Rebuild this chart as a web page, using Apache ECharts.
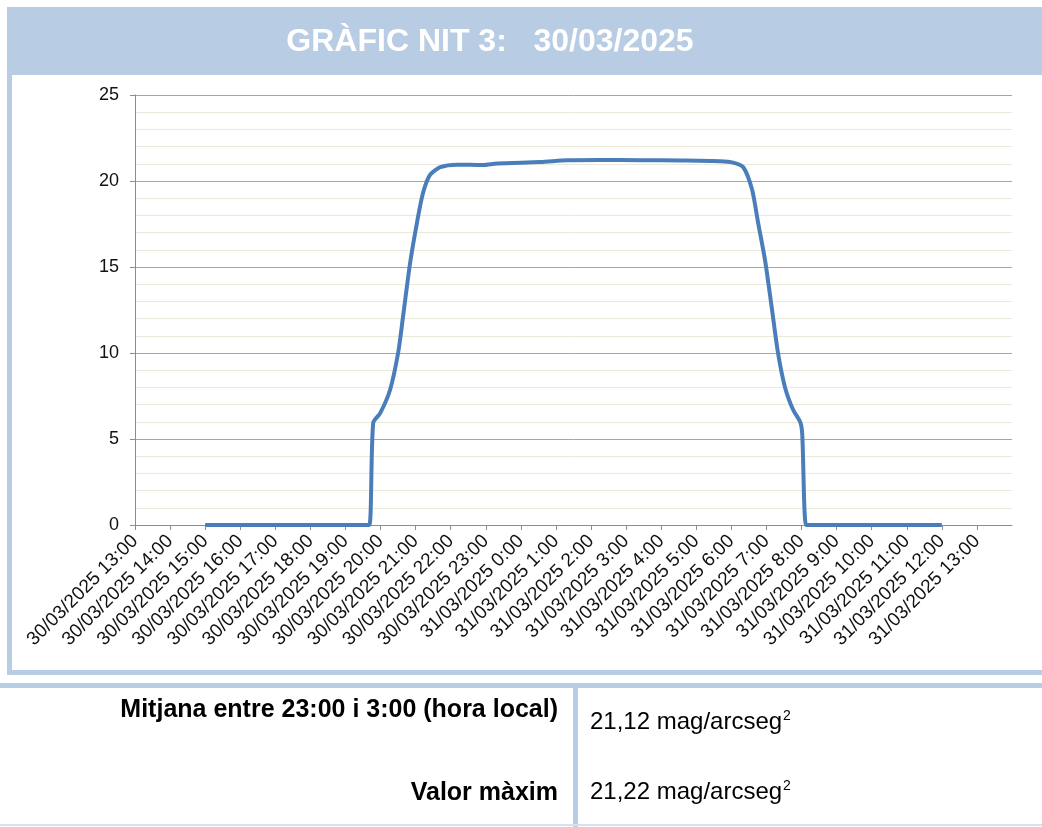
<!DOCTYPE html>
<html>
<head>
<meta charset="utf-8">
<title>Gràfic nit 3</title>
<script src="https://cdn.jsdelivr.net/npm/echarts@6/dist/echarts.min.js"></script>
<style>
  html, body {
    margin: 0;
    padding: 0;
    background: #fff;
  }
  #chart {
    width: 1042px;
    height: 827px;
  }
</style>
</head>
<body>
<div id="chart"></div>
<script>
// hores des de les 13:00 del 30/03/2025
const hoursSince13h = [2, 6.5, 6.68, 6.79, 6.99, 7.27, 7.5, 7.64, 7.84, 8.04, 8.21, 8.41, 8.7, 9.18, 9.92, 10.32, 11.55, 12.32, 13.26, 14.4, 15.54, 16.68, 17.05, 17.34, 17.59, 17.76, 17.96, 18.16, 18.33, 18.53, 18.76, 18.96, 19.02, 19.13, 19.3, 23];
// mag/arcseg2
const skyBrightness = [0, 0, 0, 5.93, 6.5, 7.85, 10.0, 12.1, 15.2, 17.6, 19.3, 20.35, 20.8, 20.95, 20.93, 21.02, 21.1, 21.2, 21.22, 21.21, 21.19, 21.15, 21.07, 20.8, 19.5, 17.6, 15.4, 12.5, 10.0, 8.0, 6.7, 6.0, 5.3, 0, 0, 0];

const xTickLabels = [
  "30/03/2025 13:00", "30/03/2025 14:00", "30/03/2025 15:00", "30/03/2025 16:00",
  "30/03/2025 17:00", "30/03/2025 18:00", "30/03/2025 19:00", "30/03/2025 20:00",
  "30/03/2025 21:00", "30/03/2025 22:00", "30/03/2025 23:00", "31/03/2025 0:00",
  "31/03/2025 1:00", "31/03/2025 2:00", "31/03/2025 3:00", "31/03/2025 4:00",
  "31/03/2025 5:00", "31/03/2025 6:00", "31/03/2025 7:00", "31/03/2025 8:00",
  "31/03/2025 9:00", "31/03/2025 10:00", "31/03/2025 11:00", "31/03/2025 12:00",
  "31/03/2025 13:00"
];

const titleText = "GRÀFIC NIT 3:   30/03/2025";
const meanLabel = "Mitjana entre 23:00 i 3:00 (hora local)";
const meanValue = "21,12";
const maxLabel = "Valor màxim";
const maxValue = "21,22";

const font = "'Liberation Sans', Arial, sans-serif";
const blue = "#b8cce4";

const chart = echarts.init(document.getElementById("chart"));

const xTicks = xTickLabels.map((s, i) => i);
const points = hoursSince13h.map((h, i) => [h, skyBrightness[i]]);

const option = {
  animation: false,
  textStyle: { fontFamily: font },
  grid: {
    left: 135,
    right: 30,
    top: 95,
    bottom: 302,
  },
  xAxis: {
    type: "value",
    min: 0,
    max: 25,
    interval: 1,
    axisLine: { show: true, lineStyle: { color: "#8c8c8c", width: 1 } },
    axisTick: {
      show: true,
      length: 5,
      customValues: xTicks,
      lineStyle: { color: "#8c8c8c" },
    },
    axisLabel: {
      customValues: xTicks,
      rotate: 45,
      margin: 13,
      fontSize: 19,
      color: "#111",
      fontFamily: font,
      formatter: (v) => xTickLabels[Math.round(v)] || "",
    },
    splitLine: { show: false },
  },
  yAxis: {
    type: "value",
    min: 0,
    max: 25,
    interval: 5,
    axisLine: { show: true, lineStyle: { color: "#8c8c8c", width: 1 } },
    axisTick: { show: true, length: 5, lineStyle: { color: "#8c8c8c" } },
    axisLabel: {
      fontSize: 18,
      color: "#111",
      margin: 16,
      fontFamily: font,
    },
    splitLine: { show: true, lineStyle: { color: "#a6a6a6", width: 1 } },
    minorTick: { show: false, splitNumber: 5 },
    minorSplitLine: { show: true, lineStyle: { color: "#eae9dc", width: 1 } },
  },
  series: [
    {
      type: "line",
      data: points,
      showSymbol: false,
      smooth: 0.25,
      lineStyle: { color: "#4a7ebb", width: 4 },
      itemStyle: { color: "#4a7ebb" },
    },
  ],
  graphic: [
    // banda del titol
    { type: "rect", shape: { x: 7, y: 7, width: 1035, height: 68 }, style: { fill: blue }, silent: true },
    {
      type: "text",
      x: 490,
      y: 42,
      style: {
        text: titleText,
        fill: "#fff",
        font: "bold 32px " + font,
        align: "center",
        verticalAlign: "middle",
      },
    },
    // marc del grafic
    { type: "rect", shape: { x: 7, y: 75, width: 5, height: 600 }, style: { fill: blue }, silent: true },
    { type: "rect", shape: { x: 7, y: 670, width: 1035, height: 5 }, style: { fill: blue }, silent: true },
    // taula inferior
    { type: "rect", shape: { x: 0, y: 683, width: 1042, height: 5 }, style: { fill: blue }, silent: true },
    { type: "rect", shape: { x: 573, y: 688, width: 5, height: 139 }, style: { fill: blue }, silent: true },
    { type: "rect", shape: { x: 0, y: 824, width: 1042, height: 2 }, style: { fill: "#d5e1ef" }, silent: true },
    {
      type: "text",
      x: 558,
      y: 710,
      style: {
        text: meanLabel,
        fill: "#000",
        font: "bold 25px " + font,
        align: "right",
        verticalAlign: "middle",
      },
    },
    {
      type: "text",
      x: 558,
      y: 793,
      style: {
        text: maxLabel,
        fill: "#000",
        font: "bold 25px " + font,
        align: "right",
        verticalAlign: "middle",
      },
    },
    {
      type: "text",
      x: 590,
      y: 722,
      style: {
        text: "{v|" + meanValue + " mag/arcseg}{s|2}",
        align: "left",
        verticalAlign: "middle",
        rich: {
          v: { fontSize: 24, fontFamily: font, color: "#000" },
          s: { fontSize: 14, fontFamily: font, color: "#000", verticalAlign: "top", padding: [0, 0, 12, 1] },
        },
      },
    },
    {
      type: "text",
      x: 590,
      y: 792,
      style: {
        text: "{v|" + maxValue + " mag/arcseg}{s|2}",
        align: "left",
        verticalAlign: "middle",
        rich: {
          v: { fontSize: 24, fontFamily: font, color: "#000" },
          s: { fontSize: 14, fontFamily: font, color: "#000", verticalAlign: "top", padding: [0, 0, 12, 1] },
        },
      },
    },
  ],
};

chart.setOption(option);
</script>
</body>
</html>
